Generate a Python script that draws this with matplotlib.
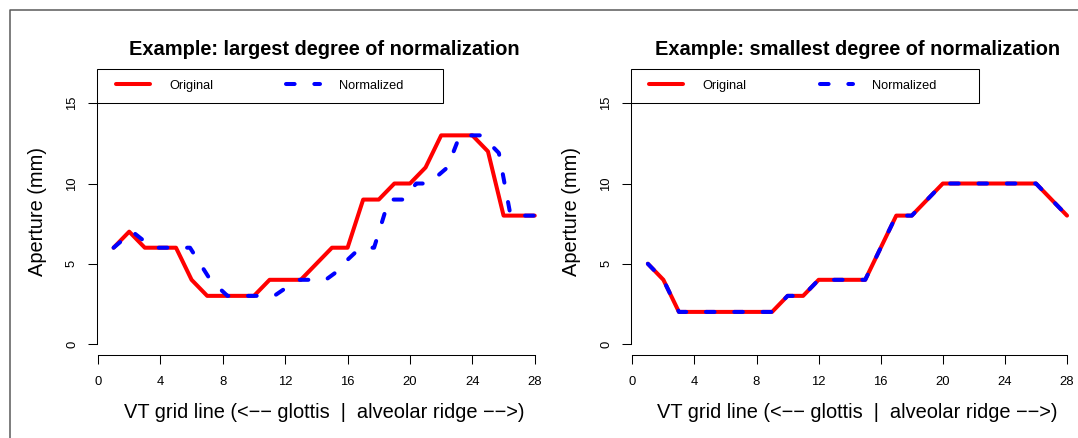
import matplotlib
matplotlib.use("Agg")
import matplotlib.pyplot as plt
import matplotlib.transforms as mtransforms
from matplotlib.patches import Rectangle
from matplotlib.lines import Line2D

plt.rcParams['font.family'] = ['Liberation Sans', 'DejaVu Sans']
plt.rcParams['lines.scale_dashes'] = False

# ---------------- data ----------------
grid_x = list(range(1, 29))

left_original = [6, 7, 6, 6, 6, 4, 3, 3, 3, 3, 4, 4, 4, 5, 6, 6, 9, 9, 10, 10,
                 11, 13, 13, 13, 12, 8, 8, 8]
left_norm_x = [1, 2.2, 3.5, 5.9, 7.2, 8.3, 11.3, 12.8, 14.6, 15.3, 16.0, 16.6,
               17.0, 17.7, 18.65, 19.6, 20.4, 21.2, 22.4, 23.2, 24.6, 25.7,
               26.45, 28]
left_norm_y = [6, 7, 6, 6, 4, 3, 3, 4, 4, 4.5, 5.25, 5.8, 6, 6, 9, 9, 10, 10,
               11, 13, 13, 11.9, 8, 8]

right_original = [5, 4, 2, 2, 2, 2, 2, 2, 2, 3, 3, 4, 4, 4, 4, 6, 8, 8, 9, 10,
                  10, 10, 10, 10, 10, 10, 9, 8]
right_normalized = [5, 4, 2, 2, 2, 2, 2, 2, 2, 3, 3, 4, 4, 4, 4, 6, 8, 8, 9, 10,
                    10, 10, 10, 10, 10, 10, 9, 8]

titles = ["Example: largest degree of normalization",
          "Example: smallest degree of normalization"]
x_label = "VT grid line (<\u2212\u2212 glottis  |  alveolar ridge \u2212\u2212>)"
y_label = "Aperture (mm)"
x_ticks = [0, 4, 8, 12, 16, 20, 24, 28]
y_ticks = [0, 5, 10, 15]
legend_labels = ["Original", "Normalized"]

# ---------------- layout ----------------
W, H = 1078, 438
fig = plt.figure(figsize=(W / 100, H / 100), dpi=100)


def px_axes(left, top, right, bottom):
    return fig.add_axes([left / W, 1 - bottom / H, (right - left) / W,
                         (bottom - top) / H])


RED = '#ff0000'
BLUE = '#0000ff'
LW = 2.9
DASH = (0, (6.2, 14.2))

panels = [
    dict(ax=px_axes(96.75, 68.6, 551.6, 354.6), title=titles[0],
         ox=grid_x, oy=left_original, nx=left_norm_x, ny=left_norm_y,
         box_right=443.0, handle_left=116.0),
    dict(ax=px_axes(631.1, 68.6, 1083.8, 354.6), title=titles[1],
         ox=grid_x, oy=right_original, nx=grid_x, ny=right_normalized,
         box_right=979.3, handle_left=649.3),
]

for p in panels:
    ax = p['ax']
    bb = ax.get_position()
    ax_left_px = bb.x0 * W
    ax_w_px = bb.width * W
    ax_h_px = bb.height * H

    l1, = ax.plot(p['ox'], p['oy'], color=RED, lw=LW,
                  solid_capstyle='round', solid_joinstyle='round')
    l2, = ax.plot(p['nx'], p['ny'], color=BLUE, lw=LW, linestyle=DASH,
                  dash_capstyle='round', dash_joinstyle='round')

    ax.set_xlim(-0.08, 29.08)
    ax.set_ylim(-0.66, 17.16)
    for s in ['top', 'right']:
        ax.spines[s].set_visible(False)
    ax.spines['bottom'].set_bounds(0, 28)
    ax.spines['left'].set_bounds(0, 15)
    for s in ['bottom', 'left']:
        ax.spines[s].set_linewidth(0.75)
    ax.set_xticks(x_ticks)
    ax.set_yticks(y_ticks)
    ax.tick_params(axis='both', direction='out', length=6.5, width=0.75,
                   labelsize=9.4)
    ax.tick_params(axis='x', pad=8.6)
    ax.tick_params(axis='y', pad=7.0, labelrotation=90)
    for t in ax.get_yticklabels():
        t.set_va('center')

    ax.set_title(p['title'], fontsize=14.4, fontweight='bold', pad=9.8)

    ax.set_xlabel(x_label, fontsize=14.4)
    ax.xaxis.label.set_va('baseline')
    ax.xaxis.set_label_coords(0.5, (354.6 - 418.3) / ax_h_px)
    ax.set_ylabel(y_label, fontsize=14.4)
    ax.yaxis.label.set_va('baseline')
    ax.yaxis.set_label_coords(-54.05 / ax_w_px, 0.5)

    # legend box (R style: top-left of plot region, bottom at y = 15)
    trans = mtransforms.blended_transform_factory(ax.transAxes, ax.transData)
    box_w = (p['box_right'] - ax_left_px) / ax_w_px
    ax.add_patch(Rectangle((0, 15), box_w, 17.16 - 15, transform=trans,
                           fill=False, edgecolor='black', lw=0.75,
                           clip_on=False))
    ax.legend([l1, l2], legend_labels, ncol=2, frameon=False,
              loc='center left',
              bbox_to_anchor=((p['handle_left'] - ax_left_px) / ax_w_px,
                              (354.6 - 85.7) / ax_h_px),
              borderpad=0, borderaxespad=0, handlelength=2.64,
              handletextpad=1.5, columnspacing=5.74, fontsize=9.2)

# outer frame (top and left edges visible)
fig.add_artist(Line2D([10 / W, 10 / W, 1.0], [0.0, 1 - 10 / H, 1 - 10 / H],
                      transform=fig.transFigure, color='#5a5a5a', lw=1.1))

fig.savefig('out.png', dpi=100)
